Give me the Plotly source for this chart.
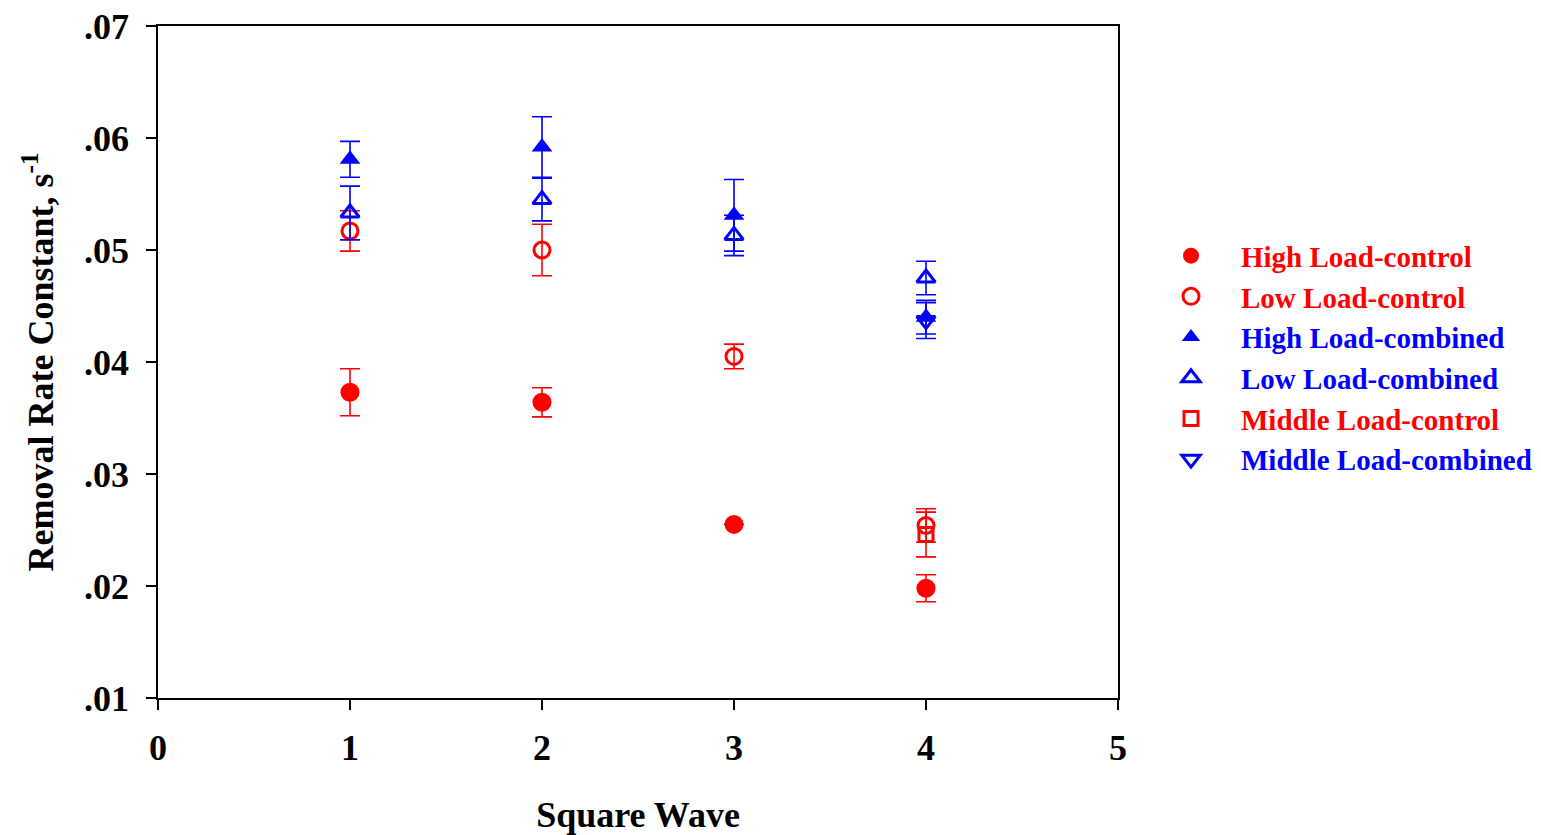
import plotly.graph_objects as go

# Square-wave index for each measurement
waves = [1, 2, 3, 4]
middle_waves = [4]

# Removal rate constants (s^-1) and their error bars
high_control = [0.0373, 0.0364, 0.0255, 0.0198]
high_control_err = [0.0021, 0.0013, None, 0.0012]
low_control = [0.0517, 0.0500, 0.0405, 0.0254]
low_control_err = [0.0018, 0.0023, 0.0011, 0.0015]
high_combined = [0.0581, 0.0592, 0.0531, 0.0440]
high_combined_err = [0.0016, 0.0027, 0.0032, 0.0015]
low_combined = [0.0533, 0.0545, 0.0513, 0.0475]
low_combined_err = [0.0024, 0.0019, 0.0018, 0.0015]
middle_control = [0.0246]
middle_control_err = [0.0020]
middle_combined = [0.0437]
middle_combined_err = [0.0016]

x_ticks = [0, 1, 2, 3, 4, 5]
x_tick_labels = ["0", "1", "2", "3", "4", "5"]
y_ticks = [0.01, 0.02, 0.03, 0.04, 0.05, 0.06, 0.07]
y_tick_labels = [".01", ".02", ".03", ".04", ".05", ".06", ".07"]

RED = "#ff0000"
BLUE = "#0000ff"
FONT = "Liberation Serif"


def series(name, x, y, err, color, symbol, size, line_w):
    return go.Scatter(
        x=x, y=y, mode="markers",
        name=f'<span style="color:{color}">{name}</span>',
        marker=dict(symbol=symbol, size=size, color=color,
                    line=dict(color=color, width=line_w)),
        error_y=dict(type="data", array=err, visible=True,
                     color=color, thickness=1.6, width=10),
    )


fig = go.Figure()
fig.add_trace(series("High Load-control", waves, high_control, high_control_err,
                     RED, "circle", 19, 0))
fig.add_trace(series("Low Load-control", waves, low_control, low_control_err,
                     RED, "circle-open", 16, 3))
fig.add_trace(series("High Load-combined", waves, high_combined, high_combined_err,
                     BLUE, "triangle-up", 18, 0))
fig.add_trace(series("Low Load-combined", waves, low_combined, low_combined_err,
                     BLUE, "triangle-up-open", 16, 3))
fig.add_trace(series("Middle Load-control", middle_waves, middle_control, middle_control_err,
                     RED, "square-open", 14, 3))
fig.add_trace(series("Middle Load-combined", middle_waves, middle_combined, middle_combined_err,
                     BLUE, "triangle-down-open", 16, 3))

axis_font = dict(family=FONT, size=36, color="black", weight="bold")

fig.update_layout(
    width=1541, height=835,
    margin=dict(l=158, r=423, t=26, b=137, autoexpand=False),
    paper_bgcolor="white", plot_bgcolor="white",
    showlegend=True,
    legend=dict(
        xref="container", x=1141 / 1541, y=0.696, xanchor="left", yanchor="top",
        font=dict(family=FONT, size=29, weight="bold"),
        bgcolor="rgba(0,0,0,0)", borderwidth=0,
        tracegroupgap=0, itemwidth=90,
    ),
    xaxis=dict(
        range=[0, 5], tickvals=x_ticks, ticktext=x_tick_labels,
        showline=True, linecolor="black", linewidth=1.6, mirror=True,
        ticks="outside", ticklen=10, tickwidth=1.6, tickcolor="black",
        showgrid=False, zeroline=False, automargin=False,
        tickfont=axis_font, ticklabelstandoff=7,
        title=dict(text="Square Wave", font=axis_font, standoff=36),
    ),
    yaxis=dict(
        range=[0.01, 0.07], tickvals=y_ticks, ticktext=y_tick_labels,
        showline=True, linecolor="black", linewidth=1.6, mirror=True,
        ticks="outside", ticklen=10, tickwidth=1.6, tickcolor="black",
        showgrid=False, zeroline=False, automargin=False,
        tickfont=axis_font, ticklabelstandoff=10,
        title=dict(text="Removal Rate Constant, s<sup>-1</sup>", font=axis_font, standoff=19),
    ),
)

fig.write_html("out.html")
